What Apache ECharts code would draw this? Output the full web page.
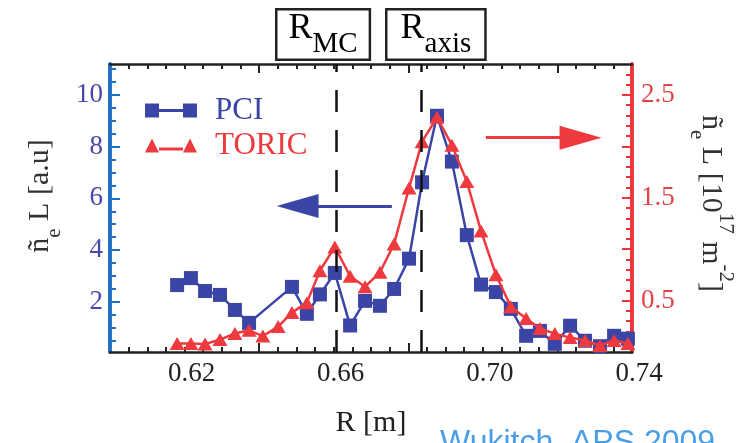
<!DOCTYPE html>
<html><head><meta charset="utf-8">
<script src="https://cdn.jsdelivr.net/npm/echarts@6/dist/echarts.min.js"></script>
<style>html,body{margin:0;padding:0;background:#fff}#c{width:750px;height:443px}</style>
</head><body><div id="c"></div>
<script>
// ---- data ----
const pciR = [0.618, 0.6217, 0.6255, 0.6295, 0.6335, 0.6373, 0.6488, 0.6528, 0.6563, 0.6603,
  0.6644, 0.6684, 0.6724, 0.6762, 0.6802, 0.6837, 0.6877, 0.6917, 0.6957, 0.6995,
  0.7035, 0.7075, 0.7116, 0.7153, 0.7193, 0.7234, 0.7274, 0.7314, 0.7352, 0.7389];
const pciVal = [2.65, 2.92, 2.42, 2.27, 1.69, 1.19, 2.58, 1.54, 2.29, 3.12,
  1.09, 2.04, 1.85, 2.5, 3.67, 6.62, 9.19, 7.42, 4.58, 2.67,
  2.38, 1.73, 0.69, 0.88, 0.38, 1.08, 0.5, 0.29, 0.69, 0.58];
const toricR = [0.618, 0.6217, 0.6255, 0.6295, 0.6335, 0.6373, 0.641, 0.6451, 0.6488, 0.6528,
  0.6563, 0.6603, 0.6644, 0.6684, 0.6724, 0.6762, 0.6802, 0.6837, 0.6877, 0.6917,
  0.6957, 0.6995, 0.7035, 0.7075, 0.7116, 0.7153, 0.7193, 0.7234, 0.7274, 0.7314,
  0.7352, 0.7389];
const toricVal = [0.082, 0.082, 0.077, 0.121, 0.18, 0.211, 0.155, 0.247, 0.383, 0.48,
  0.79, 1.022, 0.736, 0.635, 0.775, 1.051, 1.594, 2.045, 2.282, 2.011,
  1.657, 1.177, 0.751, 0.441, 0.325, 0.228, 0.179, 0.14, 0.112, 0.063,
  0.112, 0.082];
const xLabels = [0.62, 0.66, 0.70, 0.74];
const xMajorTicks = [0.64, 0.68, 0.72];
const leftLabels = [2, 4, 6, 8, 10];
const rightLabels = [0.5, 1.5, 2.5];
const rightMajorTicks = [0.5, 1.0, 1.5, 2.0, 2.5];
const rMC = 0.6608, rAxis = 0.6836;
const blueArrow = {x0: 0.6756, x1: 0.6503, y: 5.70};
const redArrow = {x0: 0.7008, x1: 0.7262, y: 2.083};

function steps(a, b, s) { const r = []; for (let v = a; v <= b + 1e-9; v += s) r.push(+v.toFixed(4)); return r; }
const xMinor = steps(0.605, 0.735, 0.005);
const leftMinor = steps(0.5, 11, 0.5);
const rightMinor = steps(0.1, 2.7, 0.1);

const BLUE = '#3b45a5', RED = '#ee3a3f', AXBLUE = '#1f6fc4', AXRED = '#f0333b';
const SERIF = 'Liberation Serif';
const XMIN = 0.6, XMAX = 0.74, LMIN = 0.065, LMAX = 11.19, RMIN = 0, RMAX = 2.8;

const chart = echarts.init(document.getElementById('c'), null, {renderer: 'canvas'});
const subRich = {
  a: {fontFamily: SERIF, fontSize: 30, lineHeight: 50, verticalAlign: 'middle', color: '#333'},
  b: {fontFamily: SERIF, fontSize: 21, lineHeight: 28, verticalAlign: 'bottom', color: '#333'},
  c: {fontFamily: SERIF, fontSize: 21, lineHeight: 28, verticalAlign: 'top', color: '#333'}
};
function xAx(pos, showLine, ticks, len, labels) {
  return {
    type: 'value', position: pos, min: XMIN, max: XMAX, gridIndex: 0,
    axisLine: {show: showLine, onZero: false, lineStyle: {color: '#222', width: 2.5}},
    axisTick: {show: true, inside: true, length: len, customValues: ticks, lineStyle: {color: '#222', width: 2}},
    axisLabel: labels ? {
      show: true, customValues: xLabels, margin: 8,
      formatter: v => '{p|' + v.toFixed(2) + '}',
      rich: {p: {fontFamily: SERIF, fontSize: 27, color: '#222', padding: [0, 0, 0, 14]}}
    } : {show: false},
    splitLine: {show: false}
  };
}
function yAx(pos, min, max, color, ticks, len, labels, labelColor, fmt) {
  return {
    type: 'value', position: pos, min: min, max: max,
    axisLine: {show: true, onZero: false, lineStyle: {color: color, width: 3.5}},
    axisTick: {show: true, inside: true, length: len, customValues: ticks, lineStyle: {color: color, width: 2}},
    axisLabel: labels ? {show: true, customValues: labels, margin: pos === 'left' ? 7 : 9, color: labelColor,
      fontFamily: SERIF, fontSize: 27, formatter: fmt} : {show: false},
    splitLine: {show: false}
  };
}
const xAxes = [
  Object.assign(xAx('bottom', true, xMajorTicks, 9, true), {
    name: 'R [m]', nameLocation: 'middle', nameGap: 56,
    nameTextStyle: {fontFamily: SERIF, fontSize: 30, color: '#222'}
  }),
  xAx('bottom', false, xMinor, 5, false),
  xAx('top', true, xMajorTicks, 9, false),
  xAx('top', false, xMinor, 5, false)
];
const yL = yAx('left', LMIN, LMAX, AXBLUE, leftLabels, 10, leftLabels, '#4848a8', v => String(v));
Object.assign(yL, {
  name: '{a|ñ}{b|e}{a| L [a.u]}', nameLocation: 'middle', nameGap: 45,
  nameTextStyle: {rich: subRich, padding: [0, 0, 0, 24]}
});
const yR = yAx('right', RMIN, RMAX, AXRED, rightMajorTicks, 10, rightLabels, '#e04448', v => v.toFixed(1));
Object.assign(yR, {
  name: '{a|ñ}{b|e}{a| L [10}{c|17}{a| m}{c|-2}{a|]}', nameLocation: 'middle', nameGap: 52, nameRotate: -90,
  nameTextStyle: {rich: subRich, padding: [0, 9, 0, 0]}
});
const yAxes = [
  yL,
  yAx('left', LMIN, LMAX, AXBLUE, leftMinor, 6, null),
  yR,
  yAx('right', RMIN, RMAX, AXRED, rightMinor, 6, null)
];

const boxRich = {
  r: {fontFamily: SERIF, fontSize: 36, lineHeight: 32, verticalAlign: 'top', color: '#222'},
  s: {fontFamily: SERIF, fontSize: 29, lineHeight: 48, verticalAlign: 'bottom', color: '#222'}
};

chart.setOption({
  animation: false,
  backgroundColor: '#fff',
  grid: {left: 110, right: 118, top: 64, bottom: 90, containLabel: false},
  xAxis: xAxes,
  yAxis: yAxes,
  legend: {
    left: 140, top: 90, orient: 'vertical', itemWidth: 52, itemHeight: 15, itemGap: 4,
    data: [
      {name: 'PCI', icon: 'path://M0,0h14v14h-14z M14,5.5h24v3h-24z M38,0h14v14h-14z'},
      {name: 'TORIC', icon: 'path://M0,14L7,0L14,14z M14,9h24v3h-24z M38,14L45,0L52,14z'}
    ],
    formatter: n => '{' + n + '|' + n + '}',
    textStyle: {rich: {
      PCI: {fontFamily: SERIF, fontSize: 31, color: BLUE, padding: [0, 0, 0, 13]},
      TORIC: {fontFamily: SERIF, fontSize: 31, color: RED, padding: [0, 0, 0, 13]}
    }}
  },
  graphic: [
    {type: 'text', left: 275, top: 8, silent: true, style: {
      text: '{r|R}{s|MC}', rich: boxRich, padding: [0, 11, 0, 11],
      borderColor: '#222', borderWidth: 2.5, backgroundColor: '#fff'}},
    {type: 'text', left: 385, top: 8, silent: true, style: {
      text: '{r|R}{s|axis}', rich: boxRich, padding: [0, 13, 0, 13],
      borderColor: '#222', borderWidth: 2.5, backgroundColor: '#fff'}},
    {type: 'text', left: 440, top: 427, silent: true, style: {
      text: 'Wukitch, APS 2009', fontFamily: 'Liberation Sans', fontSize: 32, fill: '#4a9ee6'}}
  ],
  series: [
    {
      name: 'PCI', type: 'line', xAxisIndex: 0, yAxisIndex: 0,
      data: pciR.map((r, i) => [r, pciVal[i]]),
      symbol: 'rect', symbolSize: 14,
      lineStyle: {color: BLUE, width: 2.5}, itemStyle: {color: BLUE},
      z: 3,
      markLine: {
        silent: true, precision: 6, symbol: ['none', 'none'], label: {show: false}, animation: false,
        data: [
          {xAxis: rMC, lineStyle: {color: '#111', width: 2.5, type: [22, 18]}},
          {xAxis: rAxis, lineStyle: {color: '#111', width: 2.5, type: [22, 18]}},
          [
            {coord: [blueArrow.x0, blueArrow.y], symbol: 'none', lineStyle: {color: BLUE, width: 3, type: 'solid'}},
            {coord: [blueArrow.x1, blueArrow.y], symbol: 'triangle', symbolSize: [24, 42]}
          ]
        ]
      }
    },
    {
      name: 'TORIC', type: 'line', xAxisIndex: 0, yAxisIndex: 2,
      data: toricR.map((r, i) => [r, toricVal[i]]),
      symbol: 'triangle', symbolSize: [15, 13],
      lineStyle: {color: RED, width: 2.5}, itemStyle: {color: RED},
      z: 4,
      markLine: {
        silent: true, precision: 6, symbol: ['none', 'none'], label: {show: false}, animation: false,
        data: [[
          {coord: [redArrow.x0, redArrow.y], symbol: 'none', lineStyle: {color: RED, width: 3, type: 'solid'}},
          {coord: [redArrow.x1, redArrow.y], symbol: 'triangle', symbolSize: [24, 42]}
        ]]
      }
    }
  ]
});
</script>
</body></html>
